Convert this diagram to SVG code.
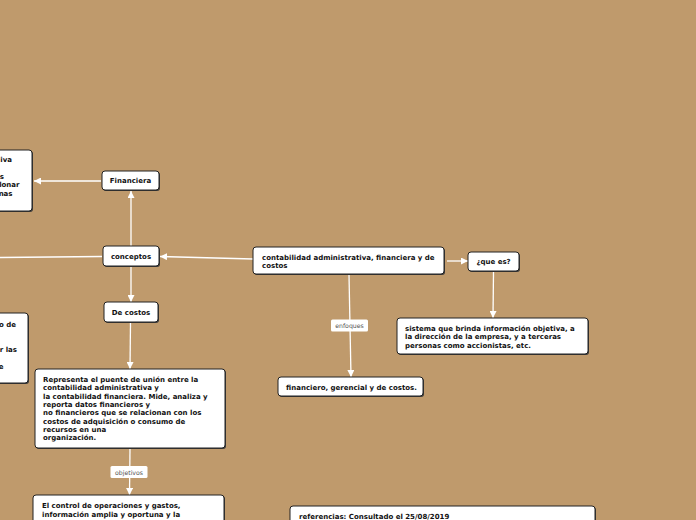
<svg xmlns="http://www.w3.org/2000/svg" width="696" height="520" viewBox="0 0 696 520">
<defs>
<style>
.bg{fill:#BF9A6C}
.box{fill:#ffffff;stroke:#222;stroke-width:1}
.sh{fill:#3a3a3a}
.t{font-family:"DejaVu Sans",Verdana,sans-serif;font-weight:bold;font-size:7px;fill:#111}
.c{text-anchor:middle}
.e{text-anchor:end}
.ln{stroke:#ffffff;stroke-width:1.3;fill:none}
.lb{fill:#ffffff;stroke:none}
.lt{font-family:"DejaVu Sans",Verdana,sans-serif;font-size:6.2px;fill:#555;text-anchor:middle}
</style>
<marker id="ah" viewBox="0 0 10 10" refX="10" refY="5" markerWidth="7" markerHeight="7" markerUnits="userSpaceOnUse" orient="auto">
<path d="M0,0 L10,5 L0,10 z" fill="#ffffff"/>
</marker>
</defs>
<rect class="bg" x="0" y="0" width="696" height="520"/>

<g id="connectors">
<line class="ln" x1="101" y1="181" x2="34" y2="181" marker-end="url(#ah)"/>
<line class="ln" x1="131" y1="246" x2="131" y2="191" marker-end="url(#ah)"/>
<line class="ln" x1="102" y1="256.5" x2="0" y2="257.5"/>
<line class="ln" x1="253" y1="259" x2="160" y2="256.5" marker-end="url(#ah)"/>
<line class="ln" x1="131" y1="266" x2="131" y2="302" marker-end="url(#ah)"/>
<line class="ln" x1="130.5" y1="322" x2="130" y2="369" marker-end="url(#ah)"/>
<line class="ln" x1="130" y1="448" x2="129.5" y2="495" marker-end="url(#ah)"/>
<line class="ln" x1="447" y1="261" x2="468" y2="261" marker-end="url(#ah)"/>
<line class="ln" x1="493.5" y1="272" x2="493" y2="318" marker-end="url(#ah)"/>
<line class="ln" x1="349" y1="275" x2="351" y2="377" marker-end="url(#ah)"/>
<g id="label-enfoques">
<rect class="lb" x="331" y="319.5" width="37" height="12" rx="1.5"/>
<text class="lt" x="349.5" y="328">enfoques</text>
</g>
<g id="label-objetivos">
<rect class="lb" x="110.5" y="466" width="37" height="12" rx="1.5"/>
<text class="lt" x="129" y="474.5">objetivos</text>
</g>
</g>

<g id="node-admin">
<rect class="sh" x="-10" y="151" width="43" height="61" rx="3"/>
<rect class="box" x="-10" y="150" width="42" height="61" rx="3"/>
<text class="t e" x="12" y="162">iva</text>
<text class="t e" x="4" y="178.5">s</text>
<text class="t e" x="19.5" y="187">lonar</text>
<text class="t e" x="12.5" y="195.5">nas</text>
</g>

<g id="node-financiera">
<rect class="sh" x="103" y="172" width="57" height="19" rx="3"/>
<rect class="box" x="102" y="171" width="57" height="19" rx="3"/>
<text class="t c" x="130.5" y="183.3">Financiera</text>
</g>

<g id="node-conceptos">
<rect class="sh" x="104" y="247" width="56" height="20" rx="3"/>
<rect class="box" x="103" y="246" width="56" height="20" rx="3"/>
<text class="t c" x="131" y="258.8">conceptos</text>
</g>

<g id="node-main">
<rect class="sh" x="254" y="248" width="191" height="27" rx="3"/>
<rect class="box" x="253" y="247" width="191" height="27" rx="3"/>
<text class="t" x="262" y="259.5">contabilidad administrativa, financiera y de</text>
<text class="t" x="262" y="267.5">costos</text>
</g>

<g id="node-quees">
<rect class="sh" x="469" y="253" width="51" height="19" rx="3"/>
<rect class="box" x="468" y="252" width="51" height="19" rx="3"/>
<text class="t c" x="493.5" y="264.3">¿que es?</text>
</g>

<g id="node-sistema">
<rect class="sh" x="398" y="319" width="191" height="36" rx="3"/>
<rect class="box" x="397" y="318" width="191" height="36" rx="3"/>
<text class="t" x="405" y="330.5">sistema que brinda información objetiva, a</text>
<text class="t" x="405" y="339">la dirección de la empresa, y a terceras</text>
<text class="t" x="405" y="347.5">personas como accionistas, etc.</text>
</g>

<g id="node-enfoques">
<rect class="sh" x="279" y="378" width="145" height="19" rx="3"/>
<rect class="box" x="278" y="377" width="145" height="19" rx="3"/>
<text class="t" x="286" y="390.3">financiero, gerencial y de costos.</text>
</g>

<g id="node-costos-def">
<rect class="sh" x="-10" y="314" width="39" height="70" rx="3"/>
<rect class="box" x="-10" y="313" width="38" height="70" rx="3"/>
<text class="t e" x="16" y="326.5">o de</text>
<text class="t e" x="17" y="351.5">r las</text>
<text class="t e" x="3.5" y="368.5">e</text>
</g>

<g id="node-decostos">
<rect class="sh" x="105" y="303" width="54" height="20" rx="3"/>
<rect class="box" x="104" y="302" width="54" height="20" rx="3"/>
<text class="t c" x="131" y="314.8">De costos</text>
</g>

<g id="node-representa">
<rect class="sh" x="36" y="370" width="190" height="79" rx="3"/>
<rect class="box" x="35" y="369" width="190" height="79" rx="3"/>
<text class="t" x="43" y="382">Representa el puente de unión entre la</text>
<text class="t" x="43" y="390.3">contabilidad administrativa y</text>
<text class="t" x="43" y="398.6">la contabilidad financiera. Mide, analiza y</text>
<text class="t" x="43" y="406.9">reporta datos financieros y</text>
<text class="t" x="43" y="415.2">no financieros que se relacionan con los</text>
<text class="t" x="43" y="423.5">costos de adquisición o consumo de</text>
<text class="t" x="43" y="431.8">recursos en una</text>
<text class="t" x="43" y="440.1">organización.</text>
</g>

<g id="node-control">
<rect class="sh" x="34" y="496" width="191" height="40" rx="3"/>
<rect class="box" x="33" y="495" width="191" height="40" rx="3"/>
<text class="t" x="42" y="508">El control de operaciones y gastos,</text>
<text class="t" x="42" y="516.5">información amplia y oportuna y la</text>
</g>

<g id="node-referencias">
<rect class="sh" x="291" y="507" width="305" height="30" rx="3"/>
<rect class="box" x="290" y="506" width="305" height="30" rx="3"/>
<text class="t" x="299" y="518.5">referencias: Consultado el 25/08/2019</text>
</g>
</svg>
